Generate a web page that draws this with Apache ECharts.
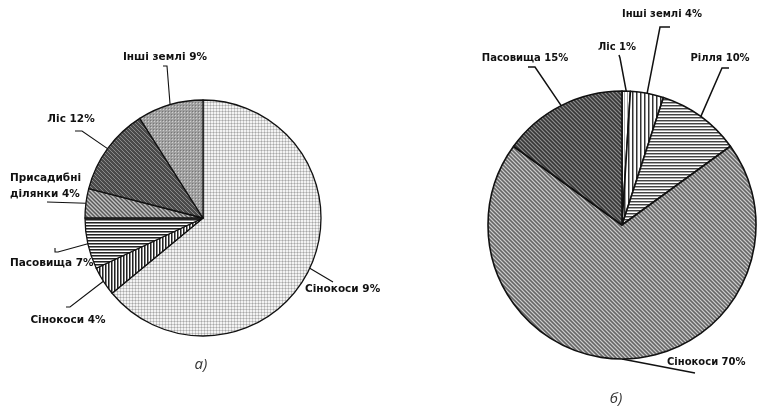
<!DOCTYPE html>
<html>
<head>
<meta charset="utf-8">
<script src="https://cdn.jsdelivr.net/npm/echarts@6/dist/echarts.min.js"></script>
<style>
html,body{margin:0;padding:0;background:#fff;}
#chart{width:758px;height:409px;}
</style>
</head>
<body>
<div id="chart"></div>
<script>
// ---------- DATA ----------
const leftCategories = ['Сінокоси', 'Сінокоси', 'Пасовища', 'Присадибні ділянки', 'Ліс', 'Інші землі'];
const leftValues = [64, 4, 7, 4, 12, 9];
const leftLabels = ['Сінокоси 9%', 'Сінокоси 4%', 'Пасовища 7%', 'Присадибні\nділянки 4%', 'Ліс 12%', 'Інші землі 9%'];

const rightCategories = ['Ліс', 'Інші землі', 'Рілля', 'Сінокоси', 'Пасовища'];
const rightValues = [1, 4, 10, 70, 15];
const rightLabels = ['Ліс 1%', 'Інші землі 4%', 'Рілля 10%', 'Сінокоси 70%', 'Пасовища 15%'];

const captions = ['а)', 'б)'];

// ---------- LAYOUT / STYLE ----------
const pies = [
  { center: [203, 218], radius: 118 },
  { center: [622, 225], radius: 134 }
];
// label anchor and leader bend points (annotation placement)
const labelPlacement = [
  [
    { x: 305, y: 289, align: 'left', pts: [[333, 282]] },
    { x: 68, y: 320, align: 'center', pts: [[70, 307], [66, 307]] },
    { x: 10, y: 263, align: 'left', pts: [[58, 252], [55, 252], [55, 248]] },
    { x: 10, y: 186, align: 'left', pts: [[47, 202]] },
    { x: 71, y: 119, align: 'center', pts: [[82, 131], [75, 131]] },
    { x: 165, y: 57, align: 'center', pts: [[167, 66], [163, 66]] }
  ],
  [
    { x: 617, y: 47, align: 'center', pts: [[620, 58], [619, 55]] },
    { x: 662, y: 14, align: 'center', pts: [[660, 27], [670, 27]] },
    { x: 720, y: 58, align: 'center', pts: [[722, 68], [729, 68]] },
    { x: 667, y: 362, align: 'left', pts: [[695, 373]] },
    { x: 525, y: 58, align: 'center', pts: [[535, 67], [528, 67]] }
  ]
];

function pattern(w, h, bg, fn) {
  const c = document.createElement('canvas');
  c.width = w; c.height = h;
  const ctx = c.getContext('2d');
  ctx.fillStyle = bg; ctx.fillRect(0, 0, w, h);
  fn(ctx);
  return { image: c, repeat: 'repeat' };
}
function px(ctx, col, x, y) { ctx.fillStyle = col; ctx.fillRect(x, y, 1, 1); }

const fills = {
  lightGrid: pattern(3, 3, '#f3f3f3', ctx => {
    for (let i = 0; i < 3; i++) { px(ctx, '#cacaca', 0, i); px(ctx, '#cacaca', i, 0); }
    px(ctx, '#a8a8a8', 0, 0);
  }),
  vStripes: pattern(3, 1, '#ffffff', ctx => { px(ctx, '#222', 0, 0); px(ctx, '#888', 1, 0); }),
  hStripes: pattern(1, 3, '#ffffff', ctx => { px(ctx, '#222', 0, 0); px(ctx, '#888', 0, 1); }),
  midDiag: pattern(4, 4, '#8a8a8a', ctx => {
    for (let i = 0; i < 4; i++) { px(ctx, '#c4c4c4', i, i); px(ctx, '#5a5a5a', (i + 2) % 4, i); }
  }),
  darkDiag: pattern(4, 4, '#4a4a4a', ctx => {
    for (let i = 0; i < 4; i++) { px(ctx, '#8a8a8a', i, i); }
  }),
  grayDots: pattern(3, 3, '#a0a0a0', ctx => {
    px(ctx, '#cfcfcf', 1, 1); px(ctx, '#777', 0, 0);
  }),
  lightV: pattern(3, 1, '#ffffff', ctx => { px(ctx, '#aaa', 0, 0); }),
  vStripesR: pattern(4, 1, '#ffffff', ctx => { px(ctx, '#333', 0, 0); px(ctx, '#999', 1, 0); }),
  hStripesR: pattern(1, 3, '#ffffff', ctx => { px(ctx, '#444', 0, 0); px(ctx, '#aaa', 0, 1); }),
  grayDiagR: pattern(4, 4, '#8a8a8a', ctx => {
    for (let i = 0; i < 4; i++) { px(ctx, '#cbcbcb', i, i); px(ctx, '#666', (i + 2) % 4, i); }
  }),
  darkDiagR: pattern(4, 4, '#525252', ctx => {
    for (let i = 0; i < 4; i++) { px(ctx, '#8c8c8c', i, i); px(ctx, '#373737', (i + 2) % 4, i); }
  })
};
const leftFills = [fills.lightGrid, fills.vStripes, fills.hStripes, fills.midDiag, fills.darkDiag, fills.grayDots];
const rightFills = [fills.lightV, fills.vStripesR, fills.hStripesR, fills.grayDiagR, fills.darkDiagR];

function edgePoint(values, idx, pie) {
  const total = values.reduce((a, b) => a + b, 0);
  let before = 0;
  for (let i = 0; i < idx; i++) before += values[i];
  const mid = (before + values[idx] / 2) / total * Math.PI * 2;
  return [pie.center[0] + pie.radius * Math.sin(mid), pie.center[1] - pie.radius * Math.cos(mid)];
}

const allValues = [leftValues, rightValues];

function makeSeries(si, cats, vals, labels, fillList, fontSize) {
  return {
    type: 'pie',
    center: pies[si].center,
    radius: pies[si].radius,
    startAngle: 90,
    clockwise: true,
    silent: true,
    avoidLabelOverlap: false,
    itemStyle: { borderColor: '#111', borderWidth: si === 0 ? 1.3 : 1.6 },
    label: {
      show: true,
      position: 'outside',
      formatter: p => labels[p.dataIndex],
      fontFamily: 'DejaVu Sans',
      fontWeight: 'bold',
      fontSize: fontSize,
      lineHeight: 16,
      color: '#111'
    },
    labelLine: { show: true, lineStyle: { color: '#111', width: si === 0 ? 1.1 : 1.5 } },
    labelLayout: params => {
      const L = labelPlacement[params.seriesIndex][params.dataIndex];
      const e = edgePoint(allValues[params.seriesIndex], params.dataIndex, pies[params.seriesIndex]);
      return {
        x: L.x, y: L.y, align: L.align, verticalAlign: 'middle',
        labelLinePoints: [e].concat(L.pts)
      };
    },
    data: vals.map((v, i) => ({ name: cats[i], value: v, itemStyle: { color: fillList[i] } }))
  };
}

const chart = echarts.init(document.getElementById('chart'), null, { renderer: 'canvas' });
chart.setOption({
  animation: false,
  backgroundColor: '#ffffff',
  title: [
    { text: captions[0], left: 196, top: 352, textAlign: 'center',
      textStyle: { fontFamily: 'Open Sans', fontStyle: 'italic', fontWeight: 'normal', fontSize: 15, color: '#333' } },
    { text: captions[1], left: 611, top: 386, textAlign: 'center',
      textStyle: { fontFamily: 'Open Sans', fontStyle: 'italic', fontWeight: 'normal', fontSize: 15, color: '#333' } }
  ],
  series: [
    makeSeries(0, leftCategories, leftValues, leftLabels, leftFills, 10.5),
    makeSeries(1, rightCategories, rightValues, rightLabels, rightFills, 10)
  ]
});
</script>
</body>
</html>
